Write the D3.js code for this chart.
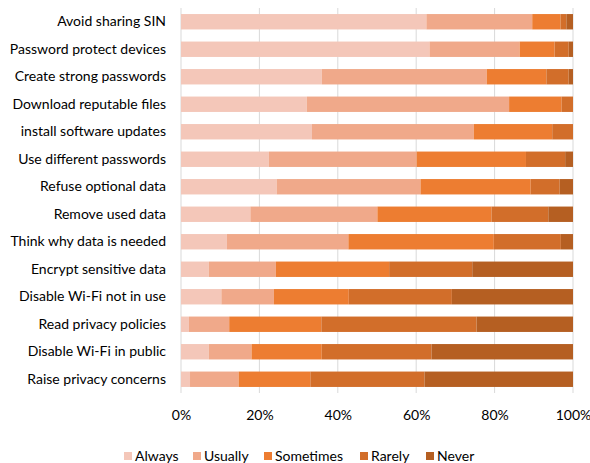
<!DOCTYPE html>
<html><head><meta charset="utf-8">
<script src="https://cdn.jsdelivr.net/npm/d3@7"></script>
<style>body{margin:0;background:#fff}svg{display:block}</style>
</head><body>
<script>
const categories = ["Avoid sharing SIN","Password protect devices","Create strong passwords","Download reputable files","install software updates","Use different passwords","Refuse optional data ","Remove used data","Think why data is needed","Encrypt sensitive data","Disable Wi-Fi not in use","Read privacy policies","Disable Wi-Fi in public","Raise privacy concerns"];
const seriesNames = ["Always","Usually","Sometimes","Rarely","Never"];
const always    = [62.6,63.4,35.9,32.1,33.4,22.4,24.4,17.7,11.7, 7.1,10.3, 2.0, 7.1, 2.3];
const usually   = [27.0,23.0,42.1,51.6,41.3,37.7,36.7,32.4,31.0,17.1,13.4,10.3,10.9,12.4];
const sometimes = [ 7.2, 8.9,15.2,13.4,20.0,27.9,28.1,29.1,37.1,28.9,19.1,23.5,17.9,18.3];
const rarely    = [ 1.5, 3.6, 5.7, 2.9, 5.3,10.0, 7.4,14.5,17.1,21.2,26.3,39.6,28.0,29.1];
const never     = [ 1.7, 1.1, 1.1, 0.0, 0.0, 2.0, 3.4, 6.3, 3.1,25.7,30.9,24.6,36.1,37.9];
const tickValues = [0,0.2,0.4,0.6,0.8,1.0];
const colors = ["#f4c7b9","#f0a98a","#ed7d31","#d26e2a","#b55f22"];

const W=590,H=463;
const m={left:181,right:17,top:8,bottom:70};
const font="Lato, 'Open Sans', sans-serif";
const fs=14;
const svg=d3.select("body").append("svg").attr("width",W).attr("height",H);

const table=categories.map((c,i)=>{
  const vals=[always[i],usually[i],sometimes[i],rarely[i],never[i]];
  const tot=d3.sum(vals);
  const o={cat:c};
  seriesNames.forEach((s,j)=>o[s]=vals[j]/tot);
  return o;
});
const stack=d3.stack().keys(seriesNames)(table);

const x=d3.scaleLinear().domain([0,1]).range([m.left,W-m.right]);
const y=d3.scaleBand().domain(categories).range([m.top,H-m.bottom]).paddingInner(0.44).paddingOuter(0.22);

svg.append("g").selectAll("line").data(tickValues).join("line")
  .attr("x1",d=>x(d)).attr("x2",d=>x(d)).attr("y1",m.top).attr("y2",H-m.bottom)
  .attr("stroke","#d9d9d9").attr("stroke-width",1);

svg.append("g").selectAll("g").data(stack).join("g").attr("fill",(d,i)=>colors[i])
  .selectAll("rect").data(d=>d).join("rect")
  .attr("x",d=>x(d[0])).attr("width",d=>x(d[1])-x(d[0]))
  .attr("y",d=>y(d.data.cat)).attr("height",y.bandwidth());

const ya=svg.append("g").attr("transform",`translate(${m.left},0)`)
  .call(d3.axisLeft(y).tickSize(0).tickPadding(15));
ya.select(".domain").remove();
ya.selectAll("text").attr("font-family",font).attr("font-size",fs).attr("fill","#000");

const xa=svg.append("g").attr("transform",`translate(0,${H-m.bottom})`)
  .call(d3.axisBottom(x).tickValues(tickValues).tickFormat(d3.format(".0%")).tickSize(0).tickPadding(17));
xa.select(".domain").remove();
xa.selectAll("text").attr("font-family",font).attr("font-size",fs).attr("fill","#000");

const legX=[124,193,264,360,426];
const lg=svg.append("g").selectAll("g").data(seriesNames).join("g")
  .attr("transform",(d,i)=>`translate(${legX[i]},452)`);
lg.append("rect").attr("width",8).attr("height",8).attr("fill",(d,i)=>colors[i]);
lg.append("text").attr("x",11).attr("y",4).attr("dy","0.35em").text(d=>d)
  .attr("font-family",font).attr("font-size",fs).attr("fill","#000");
</script>
</body></html>
